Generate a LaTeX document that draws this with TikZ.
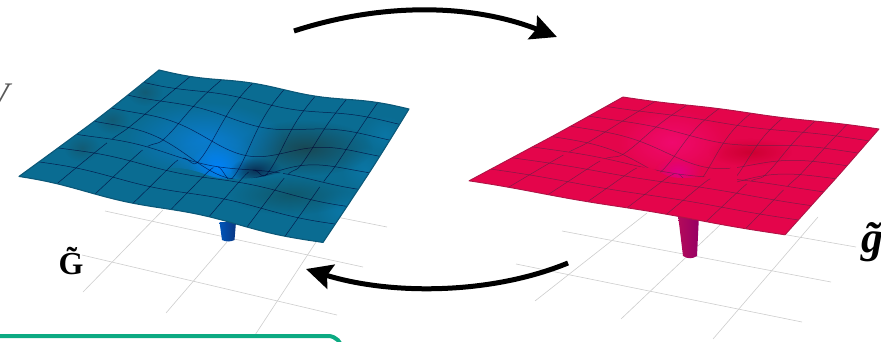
\documentclass[tikz,border=0pt]{standalone}
\usepackage{fontspec}
\setmainfont{Liberation Serif}
\usetikzlibrary{arrows.meta,fadings}
\tikzfading[name=blobf, inner color=transparent!0, outer color=transparent!100]
\definecolor{bluebase}{RGB}{10,108,146}
\definecolor{blueedge}{RGB}{12,88,120}
\definecolor{redbase}{RGB}{228,5,75}
\definecolor{rededge}{RGB}{175,20,70}
\definecolor{gridgrey}{RGB}{205,205,205}
\definecolor{boxgreen}{RGB}{12,170,130}
\colorlet{meshc}{black}
\tikzset{
  floorline/.style={draw=gridgrey,line width=0.6pt},
  meshline/.style={draw=meshc,line width=0.5pt,opacity=0.7,line join=round},
  bigarrow/.style={line width=5pt,-{Stealth[length=26pt,width=25pt,inset=4pt]}},
  sheetplot/.style={samples=33},
  labelG/.style={font=\fontsize{32}{32}\selectfont\bfseries},
  labelg/.style={font=\fontsize{44}{44}\selectfont\bfseries\itshape},
  labelV/.style={font=\fontsize{36}{36}\selectfont\itshape,text=black!65,anchor=base east,inner sep=0pt},
}
\def\SAx{0}\def\SAy{0}\def\SBx{0}\def\SBy{0}\def\SCx{0}\def\SCy{0}\def\SDx{0}\def\SDy{0}\def\SAmp{0}\def\SWob{0}
\tikzset{declare function={
  vwarp(\v)=\v*0.86/(1-0.14*\v);
  shx(\u,\v)=(1-vwarp(\v))*((1-\u)*\SAx+\u*\SBx)+vwarp(\v)*((1-\u)*\SDx+\u*\SCx);
  shdip(\u,\v)=\SAmp*exp(-(pow(\u-0.5,2)+pow(\v-0.5,2))/0.05)*((\v<0.5)?1:exp(-pow((\v-0.5)/0.1,2)));
  shy(\u,\v)=(1-vwarp(\v))*((1-\u)*\SAy+\u*\SBy)+vwarp(\v)*((1-\u)*\SDy+\u*\SCy)+shdip(\u,\v)+\SWob*sin(720*\u+200*\v);
}}
\newcommand\sheetoutline{plot[sheetplot,domain=0:1] ({shx(\x,0)},{shy(\x,0)}) -- plot[sheetplot,domain=0:1] ({shx(1,\x)},{shy(1,\x)}) -- plot[sheetplot,domain=1:0] ({shx(\x,1)},{shy(\x,1)}) -- plot[sheetplot,domain=1:0] ({shx(0,\x)},{shy(0,\x)}) -- cycle}
\newcommand\blob[5]{\fill[#1,path fading=blobf] (#2,#3) ellipse [x radius=#4pt,y radius=#5pt];}
\newcommand\meshlines[1]{
  \begin{scope}
    \clip #1;
    \foreach \kk in {1,...,7}{
      \pgfmathsetmacro\uu{\kk/8}
      \draw[meshline] plot[smooth,samples=41,domain=0:0.62] ({shx(\uu,\x)},{shy(\uu,\x)});
    }
    \foreach \kk in {1,...,5}{
      \pgfmathsetmacro\vvv{\kk/8}
      \draw[meshline] plot[smooth,samples=61,domain=0:1] ({shx(\x,\vvv)},{shy(\x,\vvv)});
    }
  \end{scope}
  \foreach \kk in {1,...,7}{
    \pgfmathsetmacro\uu{\kk/8}
    \draw[meshline] plot[smooth,samples=15,domain=0.66:1] ({shx(\uu,\x)},{shy(\uu,\x)});
  }
  \foreach \kk in {6,7}{
    \pgfmathsetmacro\vvv{\kk/8}
    \draw[meshline] plot[smooth,samples=61,domain=0:1] ({shx(\x,\vvv)},{shy(\x,\vvv)});
  }
}
\begin{document}
\begin{tikzpicture}[x=1pt,y=-1pt]
\useasboundingbox (0,0) rectangle (881,342);
% floor grids
\draw[floorline] (105,211) -- (363,267);
\draw[floorline] (82,255) -- (337,315);
\draw[floorline] (200,190) -- (387,227);
\draw[floorline] (163,210) -- (83,292);
\draw[floorline] (227,242) -- (166,313);
\draw[floorline] (320,236) -- (255,335);
\draw[floorline] (562,231) -- (831,282);
\draw[floorline] (516,264) -- (802,322);
\draw[floorline] (770,232) -- (856,247);
\draw[floorline] (647,213) -- (535,301);
\draw[floorline] (720,225) -- (621,319);
\draw[floorline] (818,217) -- (713,339);
% stems
\definecolor{sa}{RGB}{0,85,185}\definecolor{sb}{RGB}{0,110,230}\definecolor{sc}{RGB}{10,55,130}
\definecolor{sd}{RGB}{180,10,90}\definecolor{se}{RGB}{120,0,100}\definecolor{sf}{RGB}{150,0,100}
\shade[left color=sa,middle color=sb,right color=sc] (219.5,222) -- (236,222) -- (234.5,240) .. controls (230,242) and (226,242) .. (222,240) -- cycle;
\shade[left color=sd,middle color=se,right color=sf] (678,215) -- (699,215) -- (697,256) .. controls (692,259) and (688,259) .. (683,256) -- cycle;
% blue sheet
\begin{scope}
\def\SAx{159}\def\SAy{70}\def\SBx{409}\def\SBy{109}\def\SCx{323}\def\SCy{243}\def\SDx{19}\def\SDy{177}\def\SAmp{32}\def\SWob{1.6}
\colorlet{meshc}{black!80!blue}
\definecolor{b1}{RGB}{10,124,205}\definecolor{b2}{RGB}{0,130,250}\definecolor{b3}{RGB}{24,72,84}\definecolor{b4}{RGB}{16,88,108}\definecolor{b5}{RGB}{10,48,85}\definecolor{b6}{RGB}{18,92,118}\definecolor{b7}{RGB}{10,118,165}
\fill[bluebase] \sheetoutline;
\begin{scope}
  \clip \sheetoutline;
  \blob{b6}{145}{92}{18}{14}
  \blob{b6}{112}{120}{18}{14}
  \blob{b6}{82}{148}{18}{14}
  \blob{b7}{385}{135}{22}{20}
  \blob{b7}{365}{170}{24}{24}
  \blob{b7}{340}{212}{24}{22}
  \blob{b3}{305}{148}{68}{28}
  \blob{b4}{290}{195}{60}{20}
  \begin{scope}
    \clip (0,0) -- (881,0) -- (881,342) -- (283,342) -- (283,172) .. controls (265,177) and (250,179) .. (233,179) .. controls (220,179) and (213,177) .. (207,175) .. controls (195,170) and (180,167) .. (167,168) -- (167,342) -- (0,342) -- cycle;
    \blob{b1}{205}{140}{80}{38}
    \blob{b1}{212}{155}{42}{26}
    \blob{b2}{218}{168}{30}{24}
    \blob{b5}{256}{170}{26}{13}
  \end{scope}
\end{scope}
\meshlines{(0,0) -- (881,0) -- (881,342) -- (283,342) -- (283,172) .. controls (265,177) and (250,179) .. (233,179) .. controls (220,179) and (213,177) .. (207,175) .. controls (195,170) and (180,167) .. (167,168) -- (167,342) -- (0,342) -- cycle}
\draw[blueedge,line width=1.1pt,line join=round] \sheetoutline;
\end{scope}
% red sheet
\begin{scope}
\def\SAx{623}\def\SAy{97}\def\SBx{879}\def\SBy{129}\def\SCx{785}\def\SCy{235}\def\SDx{469}\def\SDy{181}\def\SAmp{30}\def\SWob{0.5}
\definecolor{meshc}{RGB}{85,35,70}
\definecolor{r1}{RGB}{240,10,110}\definecolor{r2}{RGB}{225,0,135}\definecolor{r3}{RGB}{205,0,50}
\fill[redbase] \sheetoutline;
\begin{scope}
  \clip \sheetoutline;
  \blob{r3}{750}{152}{42}{14}
  \begin{scope}
    \clip (0,0) -- (881,0) -- (881,342) -- (737,342) -- (737,165) .. controls (725,170) and (715,178) .. (687,178) .. controls (675,178) and (670,178) .. (660,172) .. controls (650,166) and (635,166) .. (623,168) -- (623,342) -- (0,342) -- cycle;
    \blob{r1}{672}{142}{55}{34}
    \blob{r2}{678}{172}{24}{15}
  \end{scope}
\end{scope}
\meshlines{(0,0) -- (881,0) -- (881,342) -- (737,342) -- (737,165) .. controls (725,170) and (715,178) .. (687,178) .. controls (675,178) and (670,178) .. (660,172) .. controls (650,166) and (635,166) .. (623,168) -- (623,342) -- (0,342) -- cycle}
\draw[rededge,line width=0.9pt,line join=round] \sheetoutline;
\end{scope}
% arrows
\coordinate (ta) at (294,31);
\coordinate (tb) at (557,37);
\coordinate (ba) at (568,263);
\coordinate (bb) at (306,269);
\draw[bigarrow] (ta) .. controls (380,3) and (470,3) .. (tb);
\draw[bigarrow] (ba) .. controls (490,295) and (390,295) .. (bb);
% labels
\node[labelG] (glabel) at (71,261) {G̃};
\node[labelg] (glabelb) at (872,242) {g̃};
\node[labelV] (vlabel) at (9,108) {V};
% green box
\draw[boxgreen,line width=4pt] (-5,336) -- (328,336) arc[start angle=90,end angle=0,radius=14pt] -- ++(0,20);
\end{tikzpicture}
\end{document}
